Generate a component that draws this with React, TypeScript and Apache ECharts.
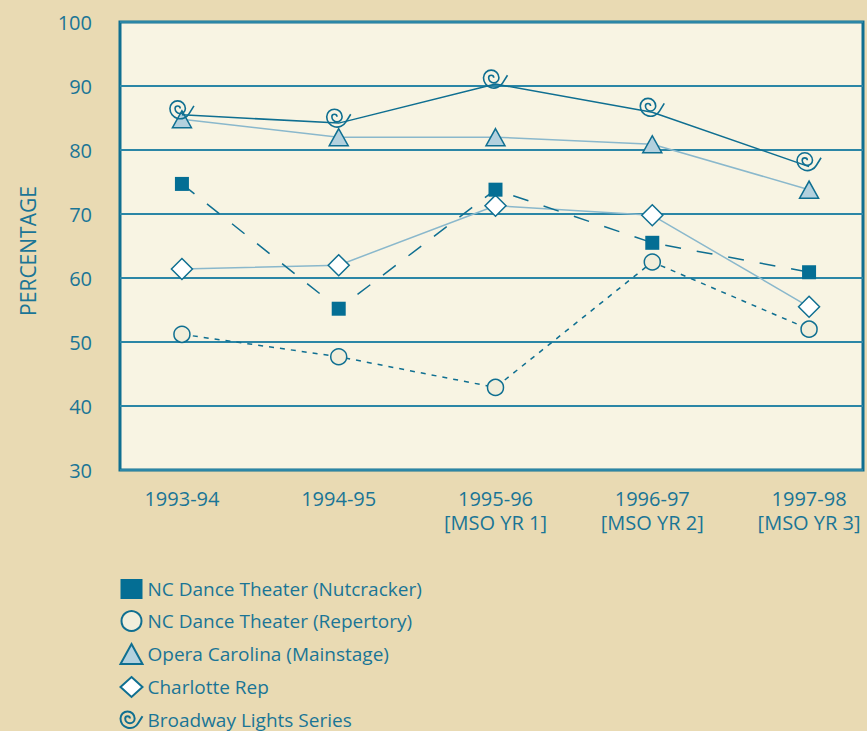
import React, { useEffect, useRef } from "react";
import * as echarts from "echarts";

const categories = ["1993-94", "1994-95", "1995-96\n[MSO YR 1]", "1996-97\n[MSO YR 2]", "1997-98\n[MSO YR 3]"];
const nutcracker = [74.7, 55.2, 73.8, 65.5, 60.9];
const repertory = [51.2, 47.7, 42.9, 62.5, 52.0];
const opera = [84.8, 82.0, 82.0, 80.9, 73.8];
const charlotteRep = [61.4, 62.0, 71.3, 69.8, 55.5];
const broadway = [85.5, 84.2, 90.3, 85.9, 77.4];
const yTicks = [30, 40, 50, 60, 70, 80, 90, 100];

const TEAL = "#0f6f91";
const LIGHT = "#8ab8cc";
const TEXT = "#1a7596";
const FONT = "'Open Sans', 'Noto Sans', sans-serif";
const SPIRAL =
  "path://M13 12 A1.5 1.5 0 0 0 10 12 A3 3 0 0 0 16 12 A4.5 4.5 0 0 0 7 12 A6 6 0 0 0 18.2 15 L21 10.5";

export default function App() {
  const ref = useRef<HTMLDivElement>(null);
  useEffect(() => {
    if (!ref.current) return;
    const chart = echarts.init(ref.current, undefined, { renderer: "svg" });
    const pts = (arr: number[]) => arr.map((v, i) => [i, v]);
    chart.setOption({
      animation: false,
      backgroundColor: "#e9dab3",
      textStyle: { fontFamily: FONT },
      grid: {
        left: 120,
        right: 4,
        top: 22,
        bottom: 261,
        show: true,
        backgroundColor: "#f8f4e3",
        borderColor: TEAL,
        borderWidth: 3,
      },
      xAxis: {
        type: "value",
        min: -0.395,
        max: 4.344,
        axisLine: { show: false },
        axisTick: { show: false },
        splitLine: { show: false },
        axisLabel: {
          customValues: [0, 1, 2, 3, 4],
          formatter: (v: number) => categories[Math.round(v)] ?? "",
          color: TEXT,
          fontSize: 20,
          lineHeight: 24,
          margin: 16,
          fontFamily: FONT,
        },
      },
      yAxis: {
        type: "value",
        min: 30,
        max: 100,
        interval: 10,
        name: "PERCENTAGE",
        nameLocation: "middle",
        nameRotate: 90,
        nameGap: 82,
        nameTextStyle: { color: TEXT, fontSize: 21, fontFamily: FONT, padding: [0, 10, 0, 0] },
        axisLine: { show: false },
        axisTick: { show: false },
        splitLine: { show: true, lineStyle: { color: "#2b86a6", width: 2 } },
        axisLabel: {
          color: TEXT,
          fontSize: 20,
          margin: 28,
          fontFamily: FONT,
          formatter: (v: number) => (yTicks.includes(v) ? String(v) : ""),
        },
      },
      legend: {
        orient: "vertical",
        left: 118,
        top: 579,
        height: 200,
        padding: 0,
        itemWidth: 22,
        itemHeight: 20,
        itemGap: 11,
        textStyle: { color: TEXT, fontSize: 19, fontFamily: FONT },
        data: [
          { name: "NC Dance Theater (Nutcracker)", icon: "rect" },
          { name: "NC Dance Theater (Repertory)", icon: "circle" },
          { name: "Opera Carolina (Mainstage)", icon: "triangle" },
          { name: "Charlotte Rep", icon: "diamond" },
          { name: "Broadway Lights Series", icon: SPIRAL },
        ],
      },
      series: [
        {
          name: "Opera Carolina (Mainstage)",
          type: "line",
          data: pts(opera),
          symbol: "triangle",
          symbolSize: [19, 17],
          lineStyle: { color: LIGHT, width: 1.5 },
          itemStyle: { color: "#b3d1de", borderColor: TEAL, borderWidth: 1.5 },
          z: 2,
        },
        {
          name: "Broadway Lights Series",
          type: "line",
          data: pts(broadway),
          symbol: SPIRAL,
          symbolSize: 24,
          symbolKeepAspect: true,
          symbolOffset: [0, -5],
          lineStyle: { color: TEAL, width: 1.5 },
          itemStyle: { color: "none", borderColor: TEAL, borderWidth: 1.6 },
          z: 3,
        },
        {
          name: "NC Dance Theater (Repertory)",
          type: "line",
          data: pts(repertory),
          symbol: "circle",
          symbolSize: 16,
          lineStyle: { color: TEAL, width: 1.5, type: [5, 6] },
          itemStyle: { color: "#f1eedb", borderColor: TEAL, borderWidth: 1.5 },
          z: 2,
        },
        {
          name: "Charlotte Rep",
          type: "line",
          data: pts(charlotteRep),
          symbol: "diamond",
          symbolSize: [21, 21],
          lineStyle: { color: LIGHT, width: 1.5 },
          itemStyle: { color: "#ffffff", borderColor: TEAL, borderWidth: 1.5 },
          z: 3,
        },
        {
          name: "NC Dance Theater (Nutcracker)",
          type: "line",
          data: pts(nutcracker),
          symbol: "rect",
          symbolSize: 14,
          lineStyle: { color: TEAL, width: 1.5, type: [16, 16] },
          itemStyle: { color: "#046e94", borderColor: "#046e94", borderWidth: 0 },
          z: 4,
        },
      ],
    });
    return () => chart.dispose();
  }, []);
  return <div ref={ref} style={{ width: 867, height: 731, position: "absolute", left: 0, top: 0 }} />;
}
